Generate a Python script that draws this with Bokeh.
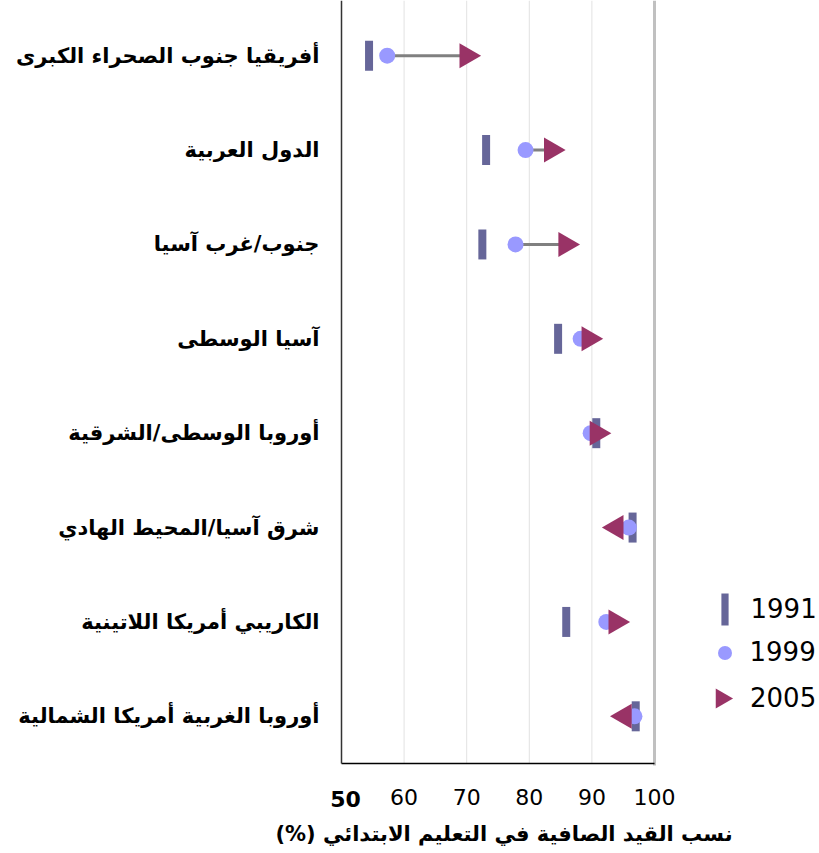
import math
from bokeh.plotting import figure
from bokeh.models import (Range1d, FixedTicker, Legend, LegendItem, ColumnDataSource)
from bokeh.core.properties import value
from bokeh.embed import file_html
from bokeh.resources import INLINE

# ---------------- data ----------------
regions = [
    "أفريقيا جنوب الصحراء الكبرى",
    "الدول العربية",
    "جنوب/غرب آسيا",
    "آسيا الوسطى",
    "أوروبا الوسطى/الشرقية",
    "شرق آسيا/المحيط الهادي",
    "الكاريبي أمريكا اللاتينية",
    "أوروبا الغربية أمريكا الشمالية",
]
ner_1991 = [54.4, 73.1, 72.5, 84.6, 90.7, 96.5, 85.9, 97.0]
ner_1999 = [57.3, 79.4, 77.8, 88.2, 89.8, 95.9, 92.3, 96.8]
ner_2005 = [70.0, 83.5, 85.8, 89.5, 90.8, 93.9, 93.8, 95.2]
years = ["1991", "1999", "2005"]
x_ticks = [50, 60, 70, 80, 90, 100]
x_title = "نسب القيد الصافية في التعليم الابتدائي (%)"
RLM = "\u200f"   # keeps the trailing "(%)" on the left, as in right-to-left text

n = len(regions)
rows = list(range(1, n + 1))
angles = [-math.pi / 2 if b >= a else math.pi / 2 for a, b in zip(ner_1999, ner_2005)]
src = ColumnDataSource(dict(row=rows, v91=ner_1991, v99=ner_1999, v05=ner_2005, ang=angles))

# ---------------- geometry (frame covers the whole canvas) ----------------
W, H = 819, 852
AX_LEFT_PX = 341          # where x = 50 sits
AX_BOTTOM_PX = 763        # where the x axis line sits
px_per_unit = 313 / 50.0
unit_px = (AX_BOTTOM_PX - 8) / n
axis_y = n + 0.5
x_start = x_ticks[0] - AX_LEFT_PX / px_per_unit
x_end = x_ticks[0] + (W - AX_LEFT_PX) / px_per_unit
y_top = 0.5 - 8 / unit_px
y_bot = axis_y + (H - AX_BOTTOM_PX) / unit_px


def px_to_x(px):
    return x_start + px / px_per_unit


def px_to_y(py):
    return y_top + py / unit_px


p = figure(width=W, height=H, x_range=Range1d(x_start, x_end), y_range=Range1d(y_bot, y_top),
           output_backend="svg", toolbar_location=None,
           min_border_left=0, min_border_right=0, min_border_top=0, min_border_bottom=0)
p.title = None
p.outline_line_color = None
p.background_fill_color = "white"
p.border_fill_color = "white"

FONT = "DejaVu Sans"

# x axis (fixed inside the frame)
xa = p.xaxis[0]
xa.fixed_location = axis_y
xa.ticker = FixedTicker(ticks=x_ticks)
xa.bounds = (x_ticks[0], x_ticks[-1])
xa.major_label_overrides = {x_ticks[0]: ""}
xa.major_label_text_font = FONT
xa.major_label_text_font_size = "22px"
xa.major_label_text_color = "black"
xa.major_label_standoff = 19
xa.major_tick_line_color = None
xa.minor_tick_line_color = None
xa.axis_line_color = "black"
xa.axis_line_width = 1.5

# y axis with region names (fixed at x = 50)
ya = p.yaxis[0]
ya.fixed_location = x_ticks[0]
ya.ticker = FixedTicker(ticks=rows)
ya.bounds = (y_top, axis_y)
ya.major_label_overrides = {r: t for r, t in zip(rows, regions)}
ya.major_label_text_font = FONT
ya.major_label_text_font_style = "bold"
ya.major_label_text_font_size = "21px"
ya.major_label_text_color = "black"
ya.major_label_standoff = 16
ya.major_tick_line_color = None
ya.minor_tick_line_color = None
ya.axis_line_color = "#333333"
ya.axis_line_width = 1.5

p.xgrid.visible = False
p.ygrid.visible = False

# vertical grid lines and right border, limited to the plotting band
grid_x = x_ticks[1:-1]
p.segment(x0=grid_x, x1=grid_x, y0=[y_top] * len(grid_x), y1=[axis_y] * len(grid_x),
          line_color="#e2e2e2", line_width=1)
p.segment(x0=[x_ticks[-1]], x1=[x_ticks[-1]], y0=[y_top], y1=[axis_y + 2 / unit_px],
          line_color="#c0c0c0", line_width=3)

# data glyphs
p.segment(x0="v99", y0="row", x1="v05", y1="row", line_color="#808080", line_width=3, source=src)
r91 = p.rect(x="v91", y="row", width=8, height=30, width_units="screen", height_units="screen",
             fill_color="#666699", line_color=None, source=src)
r99 = p.scatter(x="v99", y="row", size=16, marker="circle", fill_color="#9999ff",
                line_color=None, source=src)
r05 = p.scatter(x="v05", y="row", size=25, marker="triangle", angle="ang",
                fill_color="#993366", line_color=None, source=src)

# bold first tick label and the axis title
p.text(x=[x_ticks[0]], y=[axis_y + 35 / unit_px], text=[str(x_ticks[0])], x_offset=4,
       text_font=value(FONT), text_font_style="bold", text_font_size="22px",
       text_align="center", text_baseline="middle", text_color="black")
p.text(x=[(x_ticks[0] + x_ticks[-1]) / 2], y=[axis_y + 70 / unit_px], text=[x_title + RLM],
       x_offset=6,
       text_font=value(FONT), text_font_style="bold", text_font_size="21px",
       text_align="center", text_baseline="middle", text_color="black")

# legend
marker_cx, text_x = 724, 750
tri_cx, tri_cy, tri_size = marker_cx - 3, 698, 20
# 2005 key drawn as a right-pointing marker (legend keys are never rotated by Bokeh)
p.scatter(x=[px_to_x(tri_cx)], y=[px_to_y(tri_cy)], size=tri_size, marker="triangle",
          angle=-math.pi / 2, fill_color="#993366", line_color=None)
r05_key = p.scatter(x=[], y=[], size=tri_size, marker="triangle",
                    fill_color="#993366", line_color=None)

specs = [
    (r91, years[0], 9, 40, marker_cx, 609),
    (r99, years[1], 35, 35, marker_cx, 652),
    (r05_key, years[2], 50, 50, tri_cx, tri_cy),
]
for rend, lab, gw, gh, cx, cy in specs:
    leg = Legend(items=[LegendItem(label=lab, renderers=[rend])],
                 location=(cx - gw / 2, H - (cy + gh / 2)),
                 glyph_width=gw, glyph_height=gh,
                 label_standoff=int(round(text_x - (cx + gw / 2))),
                 padding=0, margin=0, spacing=0,
                 border_line_color=None, background_fill_alpha=0,
                 label_text_font=FONT, label_text_font_size="26px",
                 label_text_color="black")
    p.add_layout(leg)

open("out.html", "w").write(file_html(p, INLINE))
